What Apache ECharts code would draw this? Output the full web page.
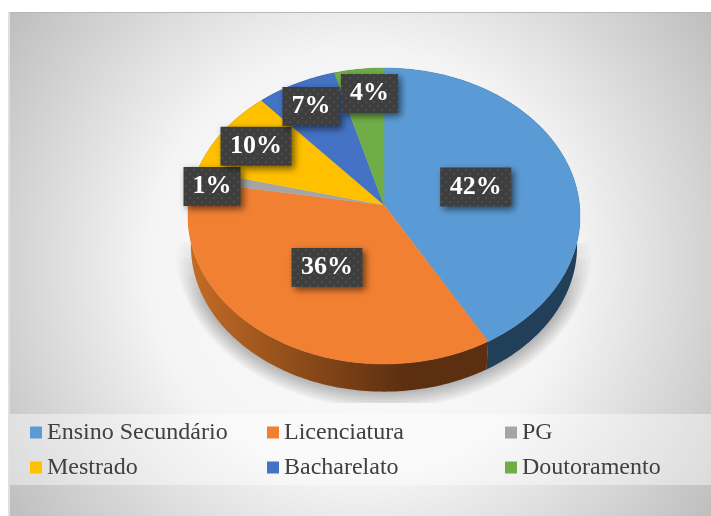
<!DOCTYPE html>
<html>
<head>
<meta charset="utf-8">
<style>html,body{margin:0;padding:0;background:#fff}#c{width:711px;height:516px}</style>
<script src="https://cdn.jsdelivr.net/npm/echarts@6/dist/echarts.min.js"></script>
</head>
<body>
<div id="c"></div>
<script>
const categories = ['Ensino Secundário','Licenciatura','PG','Mestrado','Bacharelato','Doutoramento'];
const values = [41.7, 35.9, 1.3, 9.6, 7.1, 4.4];
const colors = ['#5b9bd5','#f28032','#a5a5a5','#ffc000','#4472c4','#70ad47'];
const wallColors = ['#223f59',null,'#555','#806000','#223a66','#385724'];
const labelRadius = [0.49,0.5,0.9,0.79,0.81,0.81];
const labelNudge = [[0,0.5],[0.5,0],[-2,8],[0,0],[-1,1],[6,0]];

const FONT = '"Liberation Serif","Times New Roman",serif';
const CX = 384, CY = 205, RX = 195.5, RY = 147.2, PERSP = 0.0743;
const DEPTH = 30, LOWER = 0.985;
const total = values.reduce((a,b)=>a+b,0);

function project(theta, r, lower, grow){
  const u = r*Math.sin(theta), v = -r*Math.cos(theta), d = 1-PERSP*v;
  const s = lower ? LOWER : 1, g = grow || 0;
  return [CX + (RX*s+g)*u/d, CY + (lower?DEPTH:0) + (RY*s+g)*v/d];
}
function span(i){
  let a = 0;
  for(let k=0;k<i;k++) a += values[k];
  return [a/total*2*Math.PI, (a+values[i])/total*2*Math.PI];
}
function arc(a0,a1,lower,grow){
  const n = Math.max(2,Math.ceil((a1-a0)/(Math.PI/180))), pts=[];
  for(let k=0;k<=n;k++) pts.push(project(a0+(a1-a0)*k/n,1,lower,grow));
  return pts;
}

const tile = document.createElement('canvas');
tile.width = 8; tile.height = 8;
(function(){
  const t = tile.getContext('2d');
  t.fillStyle = '#3e3e3e'; t.fillRect(0,0,8,8);
  t.fillStyle = '#4d4d4d';
  t.fillRect(1,1,2,2); t.fillRect(5,5,2,2);
})();

const wallFill = i => wallColors[i] || {
  type:'linear', x:190, y:0, x2:405, y2:0, global:true,
  colorStops:[{offset:0,color:'#c46c26'},{offset:0.5,color:'#8f4c1a'},{offset:1,color:'#5c2f10'}]
};

const shadowFill = {type:'linear',x:0,y:235,x2:0,y2:305,global:true,colorStops:[
  {offset:0,color:'rgba(0,0,0,0)'},{offset:1,color:'rgba(0,0,0,0.021)'}]};
const ringGrowth = [1,2,3,4,5,6,7,8,9,10,11,12,13,14,15,16];

const series = [];
series.push({
  type:'custom', name:'shadow', coordinateSystem:'none', silent:true, z:1,
  data:[[total]],
  renderItem:function(){
    return {
      type:'group',
      children:ringGrowth.map(g=>({
        type:'polygon',
        shape:{points:arc(0,2*Math.PI,true,g)},
        style:{fill:shadowFill},
        clipPath:{type:'rect',shape:{x:175,y:232,width:416,height:171}}
      }))
    };
  }
});
series.push({
  type:'custom', name:'walls', coordinateSystem:'none', silent:true, z:2,
  data:values.map(v=>[v]),
  renderItem:function(params){
    const i = params.dataIndex, s = span(i);
    return {
      type:'polygon',
      shape:{points:arc(s[0],s[1],false).concat(arc(s[0],s[1],true).reverse())},
      style:{fill:wallFill(i)}
    };
  }
});
categories.forEach(function(name,i){
  series.push({
    type:'custom', name:name, coordinateSystem:'none', z:3,
    itemStyle:{color:colors[i]},
    data:[[values[i]]],
    renderItem:function(){
      const s = span(i);
      return {
        type:'polygon',
        shape:{points:[[CX,CY]].concat(arc(s[0],s[1],false))},
        style:{fill:colors[i],stroke:colors[i],lineWidth:0.4}
      };
    }
  });
});
series.push({
  type:'custom', name:'labels', coordinateSystem:'none', silent:true, z:4,
  data:values.map(v=>[v]),
  renderItem:function(params){
    const i = params.dataIndex, s = span(i);
    const p = project((s[0]+s[1])/2,labelRadius[i],false);
    const x = p[0]+labelNudge[i][0], y = p[1]+labelNudge[i][1];
    const text = Math.round(values[i]/total*100)+'%';
    const w = text.length>2 ? 71 : 57, h = 39;
    return {
      type:'group',
      children:[
        {type:'rect',shape:{x:x-w/2,y:y-h/2,width:w,height:h},
         style:{fill:{image:tile,repeat:'repeat'},shadowBlur:7,shadowOffsetX:3,shadowOffsetY:3,shadowColor:'rgba(0,0,0,0.55)'}},
        {type:'text',style:{x:x,y:y,text:text,align:'center',verticalAlign:'middle',
          font:'bold 26px '+FONT,fill:'#ffffff'}}
      ]
    };
  }
});

const legendCols = [[0,3,30],[1,4,267],[2,5,505]];
const chart = echarts.init(document.getElementById('c'),null,{renderer:'canvas'});
chart.setOption({
  animation:false,
  backgroundColor:'#ffffff',
  graphic:[
    {type:'rect',z:-10,shape:{x:8,y:12,width:703,height:504},style:{fill:'#e0e0e0'}},
    {type:'rect',z:-9,shape:{x:10,y:13,width:701,height:503},
     style:{fill:{type:'radial',x:0.5,y:0.5,r:0.85,colorStops:[
       {offset:0,color:'#ffffff'},{offset:0.5,color:'#f4f4f4'},{offset:1,color:'#bfbfbf'}]}}},
    {type:'rect',z:-9,shape:{x:10,y:12,width:701,height:1},style:{fill:'#b8b8b8'}},
    {type:'rect',z:-8,shape:{x:10,y:414,width:701,height:71},style:{fill:'rgba(255,255,255,0.42)'}}
  ],
  legend:legendCols.map(c=>({
    data:[categories[c[0]],categories[c[1]]],
    orient:'vertical', left:c[2], top:419, padding:0,
    itemWidth:12, itemHeight:12, itemGap:8, icon:'rect', selectedMode:false,
    textStyle:{fontFamily:FONT,fontSize:24,color:'#404040',lineHeight:27}
  })),
  series:series
});
</script>
</body>
</html>
